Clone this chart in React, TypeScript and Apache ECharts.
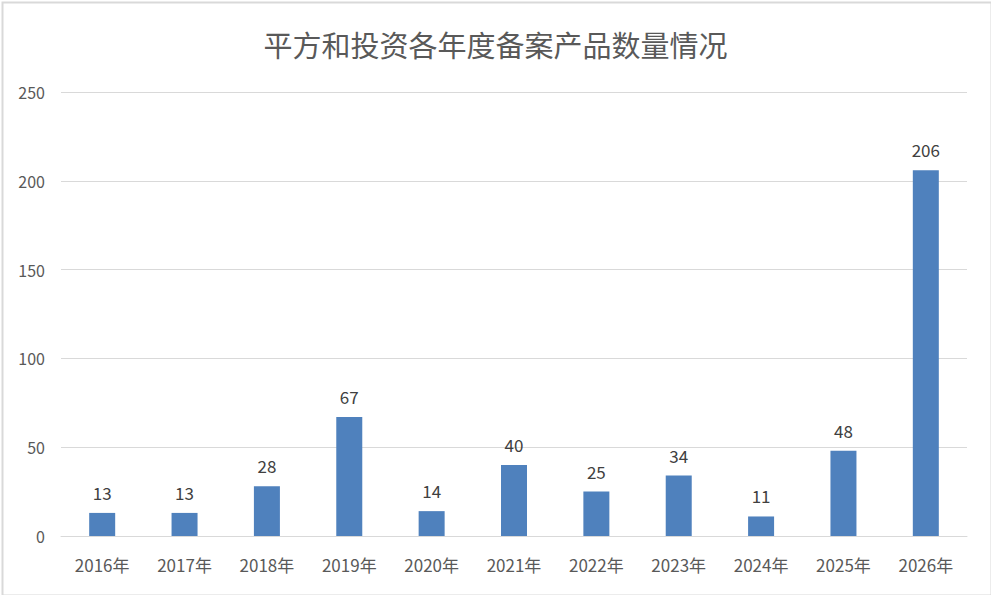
import React, { useEffect, useRef } from "react";
import * as echarts from "echarts";

const categories = ["2016年", "2017年", "2018年", "2019年", "2020年", "2021年", "2022年", "2023年", "2024年", "2025年", "2026年"];
const values = [13, 13, 28, 67, 14, 40, 25, 34, 11, 48, 206];
const titleText = "平方和投资各年度备案产品数量情况";

export default function App() {
  const ref = useRef<HTMLDivElement>(null);
  useEffect(() => {
    document.body.style.margin = "0";
    const chart = echarts.init(ref.current!, null, { renderer: "svg" });
    const font = "'Noto Sans CJK SC', 'Noto Sans', sans-serif";
    chart.setOption({
      animation: false,
      backgroundColor: "#ffffff",
      title: {
        text: titleText,
        left: "center",
        top: 24,
        textStyle: { fontSize: 29, fontWeight: "normal", color: "#595959", fontFamily: font },
      },
      graphic: [
        {
          type: "rect",
          left: 0,
          top: 0,
          shape: { x: 1, y: 1, width: 989, height: 593 },
          style: { fill: "none", stroke: "#d9d9d9", lineWidth: 2 },
          silent: true,
        },
      ],
      grid: { left: 61, right: 24, top: 92, bottom: 59, containLabel: false },
      xAxis: {
        type: "category",
        data: categories,
        axisLine: { lineStyle: { color: "#d9d9d9", width: 1 } },
        axisTick: { show: false },
        axisLabel: { color: "#595959", fontSize: 17, margin: 20, fontFamily: font },
      },
      yAxis: {
        type: "value",
        min: 0,
        max: 250,
        interval: 50,
        axisLine: { show: false },
        axisTick: { show: false },
        splitLine: { lineStyle: { color: "#d9d9d9", width: 1 } },
        axisLabel: { color: "#595959", fontSize: 16, margin: 16, fontFamily: font },
      },
      series: [
        {
          type: "bar",
          data: values,
          barWidth: 26,
          itemStyle: { color: "#4f81bd" },
          label: {
            show: true,
            position: "top",
            distance: 12,
            color: "#404040",
            fontSize: 17,
            fontFamily: font,
          },
        },
      ],
    });
    return () => chart.dispose();
  }, []);
  return <div ref={ref} style={{ width: 991, height: 595, position: "absolute", left: 0, top: 0 }} />;
}
